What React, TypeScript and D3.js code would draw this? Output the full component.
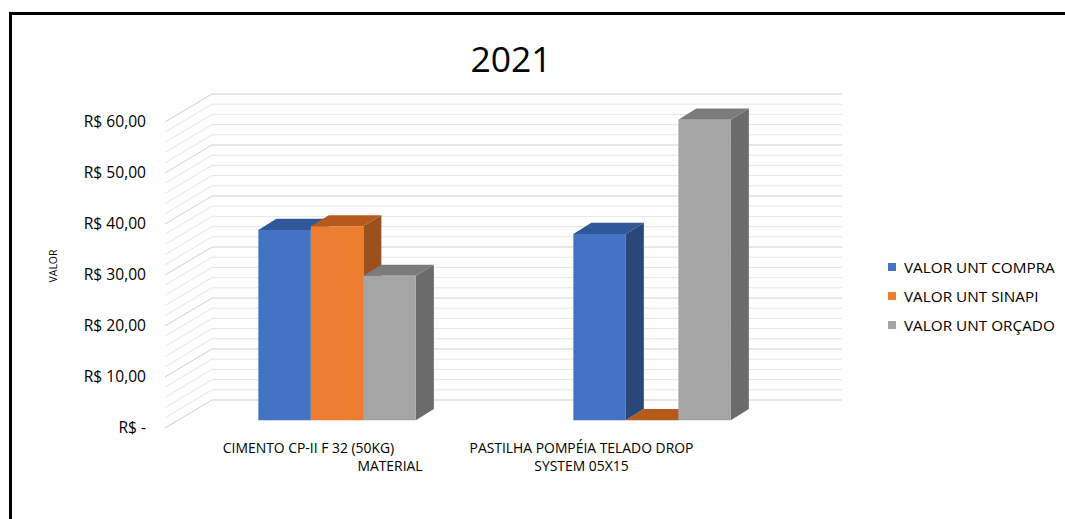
import React from "react";
import * as d3 from "d3";

const categories = ["CIMENTO CP-II F 32 (50KG)", "PASTILHA POMPÉIA TELADO DROP SYSTEM 05X15"];
const categoryLines = [["CIMENTO CP-II F 32 (50KG)"], ["PASTILHA POMPÉIA TELADO DROP", "SYSTEM 05X15"]];
const seriesNames = ["VALOR UNT COMPRA", "VALOR UNT SINAPI", "VALOR UNT ORÇADO"];
const compra = [37.3, 36.5];
const sinapi = [38.0, 0];
const orcado = [28.3, 58.9];
const yTickValues = [0, 10, 20, 30, 40, 50, 60];
const yTickLabels = ["R$ -", "R$ 10,00", "R$ 20,00", "R$ 30,00", "R$ 40,00", "R$ 50,00", "R$ 60,00"];
const title = "2021";
const yAxisTitle = "VALOR";
const xAxisTitle = "MATERIAL";

const seriesValues = [compra, sinapi, orcado];
const faceColors = [
  { front: "#4472C4", top: "#30579a", side: "#2b4777" },
  { front: "#ED7D31", top: "#b5591d", side: "#9c4f1e" },
  { front: "#A5A5A5", top: "#7b7b7b", side: "#6b6b6b" },
];
const labelShift = [-16, -58];

const W = 1065;
const H = 519;
const DX = 45; // depth offset
const DY = -28;
const D0 = 0.28;
const D1 = 0.68;
const FONT = "'Open Sans', sans-serif";

export default function App() {
  const x = d3.scaleBand<string>().domain(categories).range([167, 797]).padding(0);
  const y = d3.scaleLinear().domain([0, 60]).range([428, 122]);
  const bw = x.bandwidth();
  const xs = d3
    .scaleBand<number>()
    .domain(d3.range(seriesNames.length))
    .range([bw * 0.25, bw * 0.75])
    .padding(0);
  const grid = d3.range(0, 61, 2);
  const x0 = x.range()[0];
  const x1 = x.range()[1];

  const P = (px: number, py: number, d: number) => [px + d * DX, py + d * DY];
  const poly = (pts: number[][]) => pts.map((p) => p.join(",")).join(" ");

  const bars: React.ReactNode[] = [];
  categories.forEach((c, ci) => {
    seriesValues.forEach((vals, si) => {
      const v = vals[ci];
      const xl = (x(c) as number) + (xs(si) as number);
      const xr = xl + xs.bandwidth();
      const yb = y(0);
      const yt = y(v);
      const col = faceColors[si];
      const front = [P(xl, yt, D0), P(xr, yt, D0), P(xr, yb, D0), P(xl, yb, D0)];
      const top = [P(xl, yt, D0), P(xr, yt, D0), P(xr, yt, D1), P(xl, yt, D1)];
      const side = [P(xr, yt, D0), P(xr, yt, D1), P(xr, yb, D1), P(xr, yb, D0)];
      bars.push(
        <g key={`${ci}-${si}`}>
          <polygon points={poly(side)} fill={col.side} />
          <polygon points={poly(top)} fill={col.top} />
          {v > 0 && <polygon points={poly(front)} fill={col.front} />}
        </g>
      );
    });
  });

  return (
    <svg
      width={W}
      height={H}
      style={{ position: "fixed", left: 0, top: 0, background: "#fff", display: "block" }}
    >
      <rect x={0} y={0} width={W} height={H} fill="#fff" />
      <line x1={9} y1={13.5} x2={W} y2={13.5} stroke="#000" strokeWidth={3} />
      <line x1={10.5} y1={12} x2={10.5} y2={H} stroke="#000" strokeWidth={3} />
      <text x={511} y={72} textAnchor="middle" fontFamily={FONT} fontSize={35.5} fill="#000">
        {title}
      </text>
      {grid.map((g) => {
        const major = g % 10 === 0;
        const [bx, by] = P(x0, y(g), 1);
        const [ex] = P(x1, y(g), 1);
        const stroke = major ? "#d0d0d0" : "#e6e6e6";
        return (
          <g key={g}>
            <line x1={x0 - 2} y1={y(g)} x2={bx} y2={by} stroke={stroke} strokeWidth={1} />
            <line x1={bx} y1={by} x2={ex} y2={by} stroke={stroke} strokeWidth={1} />
          </g>
        );
      })}
      {bars}
      {yTickValues.map((t, i) => (
        <text
          key={t}
          x={146}
          y={y(t) + 5}
          textAnchor="end"
          fontFamily={FONT}
          fontSize={15.6}
          fill="#000"
        >
          {yTickLabels[i]}
        </text>
      ))}
      <text
        transform={`translate(57,266) rotate(-90)`}
        textAnchor="middle"
        fontFamily={FONT}
        fontSize={10.5}
        fill="#000"
      >
        {yAxisTitle}
      </text>
      {categories.map((c, ci) => (
        <text
          key={c}
          textAnchor="middle"
          fontFamily={FONT}
          fontSize={13.9}
          fill="#000"
        >
          {categoryLines[ci].map((ln, li) => (
            <tspan key={li} x={(x(c) as number) + bw / 2 + labelShift[ci]} y={453 + li * 18}>
              {ln}
            </tspan>
          ))}
        </text>
      ))}
      <text x={390} y={471} textAnchor="middle" fontFamily={FONT} fontSize={13.9} fill="#000">
        {xAxisTitle}
      </text>
      {seriesNames.map((s, i) => (
        <g key={s}>
          <rect x={888} y={263 + i * 29} width={8} height={8} fill={faceColors[i].front} />
          <text x={904} y={273 + i * 29} fontFamily={FONT} fontSize={15.3} fill="#000">
            {s}
          </text>
        </g>
      ))}
    </svg>
  );
}
